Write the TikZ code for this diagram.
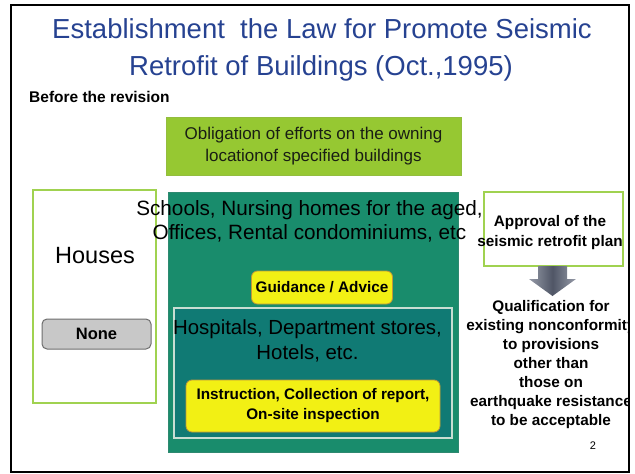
\documentclass[tikz,border=0pt]{standalone}
\usepackage{fontspec}
\setmainfont{Liberation Sans}
\definecolor{titleblue}{RGB}{38,66,145}
\definecolor{lime}{RGB}{150,200,50}
\definecolor{limeborder}{RGB}{160,210,80}
\definecolor{tealout}{RGB}{25,140,108}
\definecolor{tealin}{RGB}{16,122,116}
\definecolor{innerborder}{RGB}{200,222,210}
\definecolor{yel}{RGB}{242,240,20}
\definecolor{yelborder}{RGB}{190,150,60}
\definecolor{nonegray}{RGB}{200,200,200}
\definecolor{noneborder}{RGB}{110,110,110}
\definecolor{arrowedge}{RGB}{150,155,168}
\definecolor{arrowmid}{RGB}{80,86,102}
\definecolor{darktext}{RGB}{25,30,20}
\tikzset{
  fs/.style 2 args={font=\fontsize{#1}{#2}\selectfont},
  fsb/.style 2 args={font=\fontsize{#1}{#2}\selectfont\bfseries},
  box/.style={draw, inner sep=0pt, outer sep=0pt, rectangle},
  whitebox/.style={box, draw=limeborder, line width=2pt, fill=white},
  yelbox/.style={box, rounded corners=6pt, fill=yel, draw=yelborder, line width=0.8pt},
}
\begin{document}
\begin{tikzpicture}[x=1pt,y=-1pt]
\useasboundingbox (0,0) rectangle (635,474);
% title
\node[fs={27.5}{33}, text=titleblue, anchor=base, inner sep=0pt] (t1) at (322,38) {Establishment\ \ the Law for Promote Seismic};
\node[fs={27.5}{33}, text=titleblue, anchor=base, inner sep=0pt] (t2) at (321,75) {Retrofit of Buildings (Oct.,1995)};
\node[fsb={15.5}{19}, anchor=base west, inner sep=0pt] (before) at (29,102) {Before the revision};
% obligation
\node[box, fill=lime, draw=lime!85!gray, line width=0.6pt, minimum width=295pt, minimum height=58pt, fs={17}{21.5}, text=darktext, align=center] (oblig) at (313.5,146) {Obligation of efforts on the owning\\locationof specified buildings};
% houses
\node[whitebox, minimum width=123pt, minimum height=213pt] (houses) at (94.5,296.5) {};
\node[fs={23.5}{28}, inner sep=0pt] (houseslbl) at (95,256) {Houses};
\node[box, rounded corners=5pt, fill=nonegray, draw=noneborder, line width=1pt, minimum width=109pt, minimum height=30pt, fsb={16.5}{20}] (none) at (96.5,334) {None};
% teal outer
\node[box, fill=tealout, draw=tealout!80!gray, line width=0.6pt, minimum width=290pt, minimum height=260pt] (outer) at (313,322) {};
\node[fs={20.7}{24}, align=center, inner sep=0pt] (schools) at (309.5,221) {Schools, Nursing homes for the aged,\\Offices, Rental condominiums, etc};
\node[yelbox, minimum width=141pt, minimum height=33pt, fsb={15.3}{18}] (guid) at (322,287.5) {Guidance / Advice};
% inner
\node[box, fill=tealin, draw=innerborder, line width=2pt, minimum width=278pt, minimum height=130pt] (inner) at (313,373) {};
\node[fs={20.4}{25}, align=center, inner sep=0pt] (hosp) at (307.5,340.5) {Hospitals, Department stores,\\Hotels, etc.};
\node[yelbox, minimum width=254pt, minimum height=52pt, fsb={15.3}{20}, align=center] (instr) at (313,406) {Instruction, Collection of report,\\On-site inspection};
% approval
\node[whitebox, minimum width=139pt, minimum height=74pt] (appr) at (553.5,229) {};
\node[fsb={15.3}{20}, align=center, inner sep=0pt] (apprlbl) at (550,233) {Approval of the\\seismic retrofit plan};
% arrow
\shade[left color=arrowedge, right color=arrowedge, middle color=arrowmid]
  (538,266) -- (567,266) -- (567,279) -- (576,279) -- (552.5,296) -- (529,279) -- (538,279) -- cycle;
\begin{scope}
\clip (11,5) rectangle (629,472);
\node[fsb={15.3}{19}, align=center, inner sep=0pt] (qual) at (551,364.5) {Qualification for\\existing nonconformity\\to provisions\\other than\\those on\\earthquake resistance\\to be acceptable};
\end{scope}
\node[fs={11}{13}, inner sep=0pt] (pnum) at (593,446) {2};
% frame
\node[box, draw=black, line width=1.8pt, minimum width=618pt, minimum height=467pt] (frame) at (320,238.5) {};
\end{tikzpicture}
\end{document}
